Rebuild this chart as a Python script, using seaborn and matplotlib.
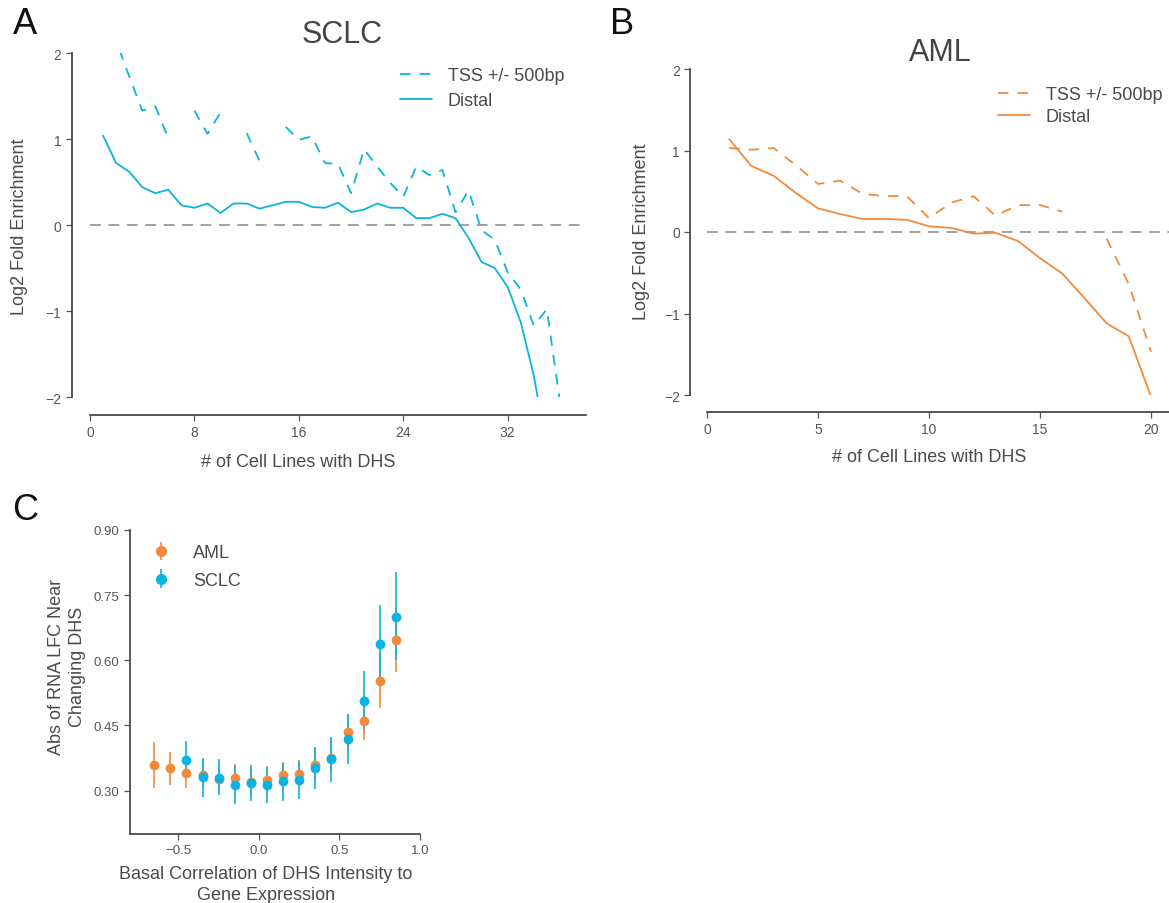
import numpy as np
import pandas as pd
import matplotlib
matplotlib.use("Agg")
import matplotlib.pyplot as plt
import seaborn as sns
from matplotlib.lines import Line2D

nan = np.nan

# ---------------- data ----------------
# Panel A: SCLC
sclc_cells = list(range(1, 37))
sclc_tss = [2.45, 2.14, 1.73, 1.33, 1.38, 1.01, nan, 1.33, 1.06, 1.31, nan, 1.07,
            0.74, nan, 1.14, 0.99, 1.03, 0.72, 0.71, 0.37, 0.88, 0.68, 0.49, 0.33,
            0.68, 0.58, 0.64, 0.15, 0.40, -0.06, -0.17, -0.55, -0.75, -1.17, -0.98, -2.05]
sclc_distal = [1.04, 0.72, 0.62, 0.44, 0.37, 0.41, 0.23, 0.20, 0.25, 0.14, 0.25, 0.25,
               0.19, 0.23, 0.27, 0.27, 0.21, 0.20, 0.26, 0.15, 0.18, 0.25, 0.20, 0.20,
               0.08, 0.08, 0.13, 0.08, -0.15, -0.43, -0.50, -0.72, -1.13, -1.75, -2.6, nan]

# Panel B: AML
aml_cells = list(range(1, 21))
aml_tss = [1.03, 1.01, 1.03, 0.82, 0.59, 0.63, 0.47, 0.44, 0.44, 0.17, 0.36, 0.44,
           0.20, 0.33, 0.33, 0.25, nan, -0.08, -0.64, -1.47]
aml_distal = [1.14, 0.81, 0.69, 0.48, 0.29, 0.22, 0.16, 0.16, 0.15, 0.07, 0.05, -0.02,
              -0.01, -0.11, -0.32, -0.51, -0.81, -1.12, -1.28, -2.02]

# Panel C
aml_corr = [-0.65, -0.55, -0.45, -0.35, -0.25, -0.15, -0.05, 0.05, 0.15, 0.25, 0.35,
            0.45, 0.55, 0.65, 0.75, 0.85]
aml_mean = [0.358, 0.351, 0.341, 0.337, 0.327, 0.330, 0.320, 0.325, 0.335, 0.339, 0.358,
            0.376, 0.434, 0.460, 0.553, 0.647]
aml_low = [0.305, 0.312, 0.305, 0.310, 0.300, 0.300, 0.290, 0.295, 0.300, 0.310, 0.320,
           0.340, 0.390, 0.416, 0.490, 0.573]
aml_high = [0.412, 0.389, 0.380, 0.370, 0.360, 0.362, 0.355, 0.357, 0.366, 0.371, 0.400,
            0.420, 0.477, 0.500, 0.620, 0.720]

sclc_corr = [-0.45, -0.35, -0.25, -0.15, -0.05, 0.05, 0.15, 0.25, 0.35, 0.45, 0.55,
             0.65, 0.75, 0.85]
sclc_mean = [0.371, 0.331, 0.329, 0.312, 0.318, 0.312, 0.321, 0.324, 0.352, 0.372, 0.418,
             0.507, 0.637, 0.700]
sclc_low = [0.330, 0.285, 0.289, 0.269, 0.275, 0.272, 0.277, 0.280, 0.303, 0.320, 0.362,
            0.440, 0.550, 0.600]
sclc_high = [0.414, 0.375, 0.372, 0.358, 0.358, 0.354, 0.364, 0.367, 0.401, 0.424, 0.477,
             0.575, 0.728, 0.803]

line_labels = ["TSS +/- 500bp", "Distal"]

# ---------------- style ----------------
sns.set_style("ticks")
plt.rcParams['font.family'] = ['Liberation Sans', 'DejaVu Sans']

BLUE = '#0BB4DE'
ORANGE = '#F28A3A'
TXT = '#4a4a4a'
TICK = '#555555'
SPINE = '#3a3a3a'
TSS_LS = (0, (5.8, 5.0))
ZERO_LS = (0, (6.0, 4.2))

W, H = 1169, 904
fig = plt.figure(figsize=(W / 100, H / 100), dpi=100)


def ax_px(l, t, r, b):
    return fig.add_axes([l / W, 1 - b / H, (r - l) / W, (b - t) / H])


def draw_segments(ax, x, y, color, ls):
    df = pd.DataFrame({'x': x, 'y': y})
    df['seg'] = df['y'].isna().cumsum()
    df = df.dropna()
    for _, g in df.groupby('seg'):
        sns.lineplot(data=g, x='x', y='y', ax=ax, color=color, linestyle=ls,
                     lw=1.3, estimator=None, legend=False, sort=False)


def style_axes(ax, tick_size=10):
    for s in ax.spines.values():
        s.set_color(SPINE)
        s.set_linewidth(1.2)
    ax.tick_params(axis='both', direction='out', length=4, width=0.9,
                   colors=TICK, labelsize=tick_size, labelcolor=TICK)


def set_labels(ax, box, xl, xc, yl, yc, size=13, xls=1.2, yls=1.2):
    l, t, r, b = box
    ax.set_xlabel(xl, fontsize=size, color=TXT, va='center', ha='center', linespacing=xls)
    ax.xaxis.set_label_coords((xc[0] - l) / (r - l), (b - xc[1]) / (b - t))
    ax.set_ylabel(yl, fontsize=size, color=TXT, va='center', ha='center', linespacing=yls)
    ax.yaxis.set_label_coords((yc[0] - l) / (r - l), (b - yc[1]) / (b - t))


# ---------------- Panel A ----------------
boxA = (90, 54, 586, 398)
axA = ax_px(*boxA)
axA.axhline(0, color='#9a9a9a', ls=ZERO_LS, lw=1.3, zorder=1)
draw_segments(axA, sclc_cells, sclc_tss, BLUE, TSS_LS)
draw_segments(axA, sclc_cells, sclc_distal, BLUE, '-')
axA.set_xlim(0, 38)
axA.set_ylim(-2, 2)
axA.set_xticks([0, 8, 16, 24, 32])
axA.set_yticks([-2, -1, 0, 1, 2])
style_axes(axA)
sns.despine(ax=axA, offset=13)
set_labels(axA, boxA, "# of Cell Lines with DHS", (298, 463),
           "Log2 Fold Enrichment", (20, 227))
hA = [Line2D([], [], color=BLUE, ls=TSS_LS, lw=1.3), Line2D([], [], color=BLUE, lw=1.3)]
axA.legend(hA, line_labels, loc='upper left', bbox_to_anchor=(400 / W, 1 - 68 / H),
           bbox_transform=fig.transFigure, frameon=False, fontsize=13,
           handlelength=1.75, handletextpad=0.9, borderpad=0, borderaxespad=0,
           labelspacing=0.45, labelcolor=TXT)

# ---------------- Panel B ----------------
boxB = (707, 70, 707 + 21 * 22.2, 396)
axB = ax_px(*boxB)
axB.axhline(0, color='#9a9a9a', ls=ZERO_LS, lw=1.3, zorder=1)
draw_segments(axB, aml_cells, aml_tss, ORANGE, TSS_LS)
draw_segments(axB, aml_cells, aml_distal, ORANGE, '-')
axB.set_xlim(0, 21)
axB.set_ylim(-2, 2)
axB.set_xticks([0, 5, 10, 15, 20])
axB.set_yticks([-2, -1, 0, 1, 2])
style_axes(axB)
sns.despine(ax=axB, offset=12)
set_labels(axB, boxB, "# of Cell Lines with DHS", (929, 458),
           "Log2 Fold Enrichment", (641, 232))
hB = [Line2D([], [], color=ORANGE, ls=TSS_LS, lw=1.3), Line2D([], [], color=ORANGE, lw=1.3)]
axB.legend(hB, line_labels, loc='upper left', bbox_to_anchor=(998 / W, 1 - 87 / H),
           bbox_transform=fig.transFigure, frameon=False, fontsize=13,
           handlelength=1.75, handletextpad=0.9, borderpad=0, borderaxespad=0,
           labelspacing=0.3, labelcolor=TXT)

# ---------------- Panel C ----------------
boxC = (130, 531, 420, 835)
axC = ax_px(*boxC)
for corr, mean, low, high, col, lab in [
        (aml_corr, aml_mean, aml_low, aml_high, ORANGE, 'AML'),
        (sclc_corr, sclc_mean, sclc_low, sclc_high, BLUE, 'SCLC')]:
    m = np.array(mean)
    yerr = np.vstack([m - np.array(low), np.array(high) - m])
    axC.errorbar(corr, mean, yerr=yerr, fmt='none', ecolor=col, elinewidth=1.2,
                 capsize=0, label=None, zorder=2)
    sns.scatterplot(x=corr, y=mean, ax=axC, color=col, s=50, linewidth=0,
                    legend=False, zorder=3)
axC.set_xlim(-0.8, 1.0)
axC.set_ylim(0.2, 0.9)
axC.set_xticks([-0.5, 0.0, 0.5, 1.0])
axC.set_xticklabels(['\u22120.5', '0.0', '0.5', '1.0'])
axC.set_yticks([0.30, 0.45, 0.60, 0.75, 0.90])
axC.set_yticklabels(['0.30', '0.45', '0.60', '0.75', '0.90'])
style_axes(axC, tick_size=9.5)
sns.despine(ax=axC)
set_labels(axC, boxC, "Basal Correlation of DHS Intensity to\nGene Expression", (266, 885),
           "Abs of RNA LFC Near\nChanging DHS", (67, 667), xls=1.35, yls=1.35)
hC = [axC.errorbar([], [], yerr=[], fmt='o', color=ORANGE, ms=7, elinewidth=1.2, capsize=2),
      axC.errorbar([], [], yerr=[], fmt='o', color=BLUE, ms=7, elinewidth=1.2, capsize=2)]
axC.legend(hC, ['AML', 'SCLC'], loc='upper left', bbox_to_anchor=(150 / W, 1 - 545 / H),
           bbox_transform=fig.transFigure, frameon=False, fontsize=13,
           handlelength=1.2, handletextpad=1.2, borderpad=0, borderaxespad=0,
           labelspacing=0.6, labelcolor=TXT)

# ---------------- panel letters & titles ----------------
fig.text(25 / W, 1 - 25 / H, 'A', fontsize=26, ha='center', va='center', color='#111111')
fig.text(622 / W, 1 - 25 / H, 'B', fontsize=26, ha='center', va='center', color='#111111')
fig.text(25 / W, 1 - 510 / H, 'C', fontsize=26, ha='center', va='center', color='#111111')
fig.text(342 / W, 1 - 35 / H, 'SCLC', fontsize=22, ha='center', va='center', color='#444444')
fig.text(940 / W, 1 - 53 / H, 'AML', fontsize=22, ha='center', va='center', color='#444444')

fig.savefig('out.png', dpi=100)
